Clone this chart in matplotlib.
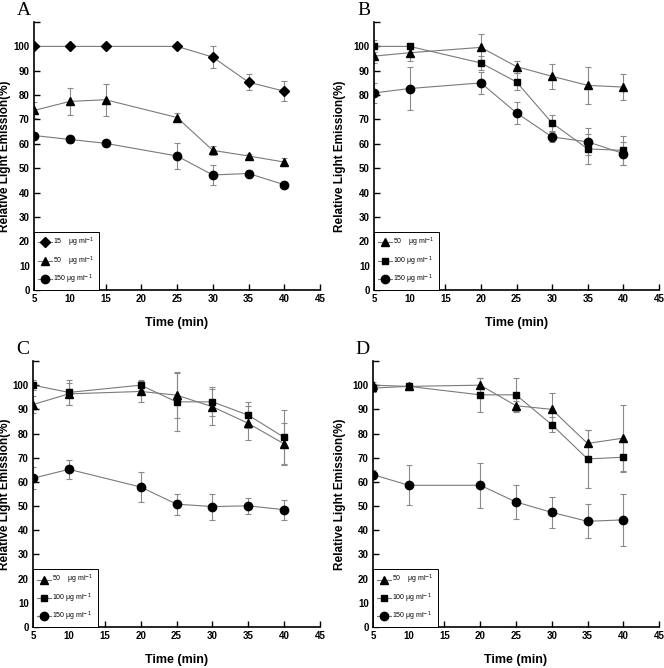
import matplotlib
matplotlib.use('Agg')
import matplotlib.pyplot as plt
from matplotlib.font_manager import FontProperties

# --- data ---
time_a = [5, 10, 15, 25, 30, 35, 40]
time_bcd = [5, 10, 20, 25, 30, 35, 40]

a_15 = [100, 100, 100, 100, 95.6, 85.3, 81.6]
a_15_err = [0, 0, 0, 0, 4.5, 3.4, 4.2]
a_50 = [73.7, 77.4, 78.1, 70.8, 57.3, 55.0, 52.5]
a_50_err = [3.3, 5.5, 6.6, 2.0, 2.0, 1.0, 1.8]
a_150 = [63.4, 61.8, 60.2, 55.0, 47.2, 47.8, 43.2]
a_150_err = [1.0, 1.6, 1.0, 5.2, 4.2, 1.4, 1.0]

b_50 = [96.0, 97.4, 99.6, 91.7, 87.7, 84.0, 83.3]
b_50_err = [3.0, 3.5, 5.3, 2.5, 5.0, 7.6, 5.5]
b_100 = [100, 100, 93.2, 85.4, 68.5, 57.9, 57.3]
b_100_err = [2.5, 1.0, 3.0, 3.5, 3.2, 6.0, 6.0]
b_150 = [80.9, 82.7, 85.0, 72.7, 62.8, 60.8, 56.0]
b_150_err = [4.0, 8.7, 4.5, 4.5, 2.2, 5.6, 4.6]

c_50 = [92.0, 96.4, 97.4, 95.9, 91.1, 84.2, 75.7]
c_50_err = [3.5, 4.5, 4.5, 9.5, 7.5, 7.0, 8.5]
c_100 = [100, 97.0, 100, 93.1, 93.1, 87.6, 78.4]
c_100_err = [2.0, 5.0, 2.0, 12.0, 6.0, 5.3, 11.5]
c_150 = [61.5, 65.2, 57.9, 50.8, 49.8, 50.1, 48.5]
c_150_err = [4.5, 4.0, 6.2, 4.4, 5.4, 3.2, 4.2]

d_50 = [100, 99.5, 100, 91.5, 90.0, 75.9, 78.1]
d_50_err = [1.5, 1.0, 3.0, 2.0, 6.7, 5.6, 13.8]
d_100 = [98.8, 99.5, 96.0, 96.0, 83.7, 69.5, 70.2]
d_100_err = [1.5, 1.5, 7.0, 7.0, 3.2, 12.0, 6.2]
d_150 = [63.0, 58.6, 58.6, 51.7, 47.4, 43.7, 44.3]
d_150_err = [2.0, 8.2, 9.2, 7.2, 6.5, 7.0, 10.8]

lab_15 = '15    μg ml$^{-1}$'
lab_50 = '50    μg ml$^{-1}$'
lab_100 = '100 μg ml$^{-1}$'
lab_150 = '150 μg ml$^{-1}$'

W, H = 664, 668

# letter, axes rect (figure fraction), ylabel centre (px), times, series
panels = [
    ('A', [0.0512, 0.566, 0.4308, 0.401], 11, time_a,
     [(a_15, a_15_err, 'D', 5.5, lab_15),
      (a_50, a_50_err, '^', 6, lab_50),
      (a_150, a_150_err, 'o', 6, lab_150)]),
    ('B', [0.5633, 0.566, 0.4292, 0.401], 346, time_bcd,
     [(b_50, b_50_err, '^', 6, lab_50),
      (b_100, b_100_err, 's', 5, lab_100),
      (b_150, b_150_err, 'o', 6, lab_150)]),
    ('C', [0.0497, 0.0614, 0.4323, 0.3982], 11, time_bcd,
     [(c_50, c_50_err, '^', 6, lab_50),
      (c_100, c_100_err, 's', 5, lab_100),
      (c_150, c_150_err, 'o', 6, lab_150)]),
    ('D', [0.5617, 0.0614, 0.4308, 0.3982], 346, time_bcd,
     [(d_50, d_50_err, '^', 6, lab_50),
      (d_100, d_100_err, 's', 5, lab_100),
      (d_150, d_150_err, 'o', 6, lab_150)]),
]

narrow = ['Liberation Sans Narrow', 'Liberation Sans', 'DejaVu Sans']
tick_fp = FontProperties(family=narrow, weight='bold', size=7)

fig = plt.figure(figsize=(W / 100, H / 100), dpi=100)

for letter, rect, ylab_px, t, series in panels:
    ax = fig.add_axes(rect)
    handles = []
    for vals, err, mk, ms, lab in series:
        ax.errorbar(t, vals, yerr=err, fmt='none', ecolor='#8a8a8a',
                    elinewidth=0.8, capsize=2.5, capthick=0.8, zorder=2)
        h, = ax.plot(t, vals, color='#7a7a7a', lw=0.8, marker=mk, ms=ms,
                     mfc='black', mec='black', label=lab, zorder=3)
        handles.append(h)

    ax.set_xlim(5, 45)
    ax.set_ylim(0, 110)
    ax.set_xticks(range(5, 50, 5))
    ax.set_yticks(range(0, 120, 10))
    ax.set_yticklabels([str(v) if v <= 100 else '' for v in range(0, 120, 10)])
    for lbl in ax.get_xticklabels() + ax.get_yticklabels():
        lbl.set_fontproperties(tick_fp)
    ax.tick_params(direction='in', length=4, width=1, pad=3)
    ax.spines['top'].set_visible(False)
    ax.spines['right'].set_visible(False)
    ax.spines['left'].set_linewidth(1.2)
    ax.spines['bottom'].set_linewidth(1.2)

    ax.set_xlabel('Time (min)', fontsize=9, fontweight='bold',
                  family=['Liberation Sans', 'DejaVu Sans'], labelpad=9)
    ax.set_ylabel('Relative Light Emission(%)', fontsize=8.5, fontweight='bold',
                  family=['Liberation Sans', 'DejaVu Sans'])
    left_px = rect[0] * W
    width_px = rect[2] * W
    ax.yaxis.set_label_coords((ylab_px - left_px) / width_px, 0.5)

    leg = ax.legend(handles=handles, loc='lower left', bbox_to_anchor=(0, 0),
                    borderaxespad=0, fancybox=False, edgecolor='black',
                    handlelength=2.0, handletextpad=0.2,
                    labelspacing=0.7, borderpad=0.6, framealpha=1,
                    prop={'family': narrow, 'size': 5})
    leg.get_frame().set_linewidth(0.7)

    ax.text(-0.06, 1.075, letter, transform=ax.transAxes, fontsize=14,
            family=['Liberation Serif', 'DejaVu Serif'], va='top', ha='left')

fig.savefig('out.png', dpi=100)
